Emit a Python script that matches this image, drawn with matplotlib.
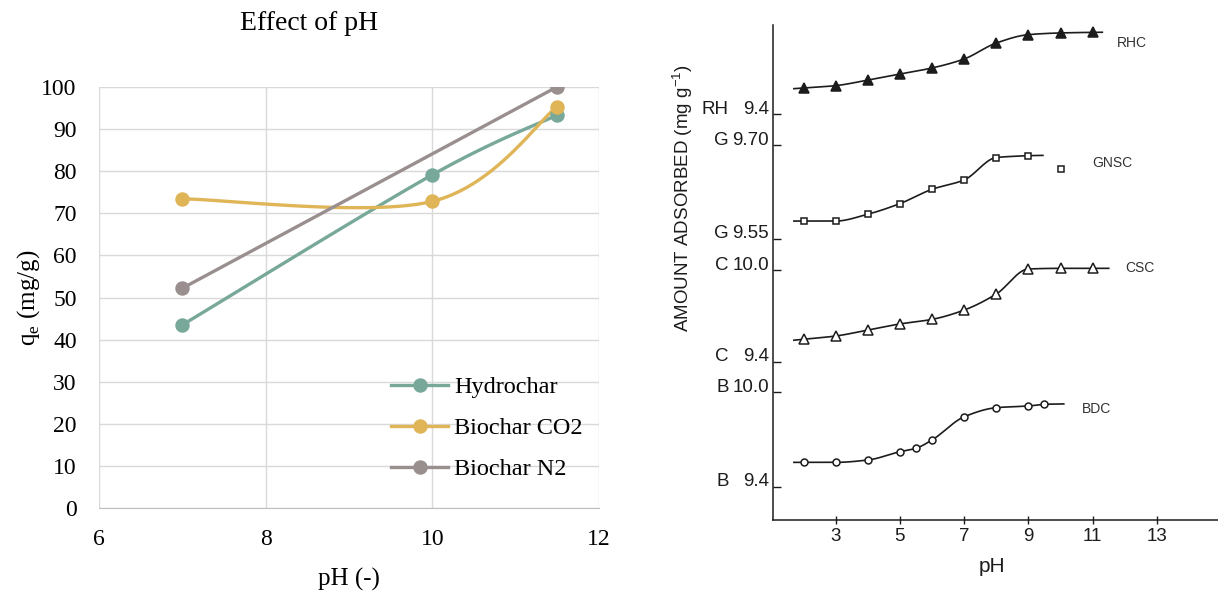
import matplotlib
matplotlib.use("Agg")
import matplotlib.pyplot as plt
from matplotlib.transforms import blended_transform_factory
import numpy as np

# ── left panel: effect of pH on q_e ─────────────────────────────────────────
PH_LEFT = [7, 10, 11.5]
HYDROCHAR = [43.5, 79.1, 93.3]
BIOCHAR_CO2 = [73.4, 72.8, 95.3]
PH_N2 = [7, 11.5]
BIOCHAR_N2 = [52.2, 100.0]
LEFT_NAMES = ["Hydrochar", "Biochar CO2", "Biochar N2"]
LEFT_COLORS = ["#78A89A", "#DFB558", "#9A8F8F"]

# ── right panel: amount adsorbed vs pH (stacked curves, own scales) ────────
PH_RHC = [2, 3, 4, 5, 6, 7, 8, 9, 10, 11]
RHC = [9.568, 9.583, 9.619, 9.658, 9.697, 9.755, 9.858, 9.912, 9.923, 9.927]
PH_GNSC = [2, 3, 4, 5, 6, 7, 8, 9]
GNSC = [9.578, 9.578, 9.589, 9.606, 9.629, 9.644, 9.680, 9.683]
PH_CSC = [2, 3, 4, 5, 6, 7, 8, 9, 10, 11]
CSC = [9.547, 9.568, 9.607, 9.647, 9.677, 9.738, 9.843, 10.007, 10.011, 10.011]
PH_BDC = [2, 3, 4, 5, 5.5, 6, 7, 8, 9, 9.5]
BDC = [9.554, 9.554, 9.569, 9.622, 9.644, 9.697, 9.845, 9.903, 9.914, 9.925]

# y-axis tick values of each stacked scale
RH_TICKS = [9.4]
G_TICKS = [9.55, 9.70]
C_TICKS = [9.4, 10.0]
B_TICKS = [9.4, 10.0]
PH_TICKS_RIGHT = [3, 5, 7, 9, 11, 13]

# where each scale sits on the shared axis: (ref value, ref position, units per 1.0)
STACK = {"RH": (9.4, 406.0, 155.0), "G": (9.55, 281.5, 623.0),
         "C": (9.4, 158.3, 152.8), "B": (9.4, 33.5, 156.7)}

SERIF = "Liberation Serif"
SANS = "Liberation Sans"
INK = "#1c1c1c"


def smooth(x, y, n=40):
    """Excel-like smoothed line (Catmull-Rom as cubic Bezier)."""
    x, y = np.asarray(x, float), np.asarray(y, float)
    px, py = np.r_[x[0], x, x[-1]], np.r_[y[0], y, y[-1]]
    t = np.linspace(0, 1, n)[:, None]
    out = []
    for i in range(1, len(px) - 2):
        p0 = np.array([px[i - 1], py[i - 1]]); p1 = np.array([px[i], py[i]])
        p2 = np.array([px[i + 1], py[i + 1]]); p3 = np.array([px[i + 2], py[i + 2]])
        c1, c2 = p1 + (p2 - p0) / 6, p2 - (p3 - p1) / 6
        seg = ((1 - t) ** 3) * p1 + 3 * ((1 - t) ** 2) * t * c1 + 3 * (1 - t) * t ** 2 * c2 + t ** 3 * p2
        out.append(seg)
    seg = np.vstack(out)
    return seg[:, 0], seg[:, 1]


def pchip(x, y, n=30):
    """Monotone cubic through the points (no overshoot), for the hand-drawn curves."""
    x, y = np.asarray(x, float), np.asarray(y, float)
    h = np.diff(x); d = np.diff(y) / h
    m = np.zeros_like(y)
    m[0], m[-1] = d[0], d[-1]
    for i in range(1, len(x) - 1):
        if d[i - 1] * d[i] > 0:
            w1, w2 = 2 * h[i] + h[i - 1], h[i] + 2 * h[i - 1]
            m[i] = (w1 + w2) / (w1 / d[i - 1] + w2 / d[i])
    xs, ys = [], []
    for i in range(len(x) - 1):
        t = np.linspace(0, 1, n)
        h00 = 2 * t ** 3 - 3 * t ** 2 + 1; h10 = t ** 3 - 2 * t ** 2 + t
        h01 = -2 * t ** 3 + 3 * t ** 2; h11 = t ** 3 - t ** 2
        xs.append(x[i] + t * h[i])
        ys.append(h00 * y[i] + h10 * h[i] * m[i] + h01 * y[i + 1] + h11 * h[i] * m[i + 1])
    return np.concatenate(xs), np.concatenate(ys)


def to_pos(key, vals):
    v0, p0, k = STACK[key]
    return p0 + (np.asarray(vals, float) - v0) * k


fig = plt.figure(figsize=(12.18, 5.93), dpi=100)

# ── left panel ──
ax = fig.add_axes([99 / 1218, 84.7 / 593, 500 / 1218, 421.6 / 593])
series = [(PH_LEFT, HYDROCHAR), (PH_LEFT, BIOCHAR_CO2), (PH_N2, BIOCHAR_N2)]
for (xs, ys), name, col in zip(series, LEFT_NAMES, LEFT_COLORS):
    sx, sy = smooth(xs, ys)
    ax.plot(sx, sy, color=col, lw=2.4, solid_capstyle="round", zorder=3)
    ax.plot(xs, ys, "o", color=col, ms=9.4, zorder=4)
    ax.plot([], [], "-o", color=col, lw=2.4, ms=9.4, label=name)
ax.set_xlim(6, 12); ax.set_ylim(0, 100)
ax.set_xticks([6, 8, 10, 12]); ax.set_yticks(range(0, 101, 10))
ax.grid(True, color="#D9D9D9", lw=1.0, zorder=0)
ax.set_axisbelow(True)
for s in ("left", "right", "top"):
    ax.spines[s].set_visible(False)
ax.spines["bottom"].set_color("#BFBFBF")
ax.tick_params(length=0, labelsize=17, pad=15)
ax.tick_params(axis="y", pad=16)
for lab in ax.get_xticklabels() + ax.get_yticklabels():
    lab.set_fontfamily(SERIF)
ax.legend(loc="center left", bbox_to_anchor=(0.584, 0.19), frameon=False,
          prop={"family": SERIF, "size": 17.5}, handlelength=2.35,
          handletextpad=0.25, labelspacing=0.78, borderpad=0, borderaxespad=0)
fig.text(309 / 1218, 1 - 24 / 593, "Effect of pH", family=SERIF, size=20,
         ha="center", va="center")
fig.text(29 / 1218, 1 - 298 / 593, r"q$_{\mathregular{e}}$ (mg/g)", family=SERIF,
         size=18, rotation=90, ha="center", va="center")
fig.text(349 / 1218, 1 - 579 / 593, "pH (-)", family=SERIF, size=18,
         ha="center", va="center")

# ── right panel ──
bx = fig.add_axes([773 / 1218, 73 / 593, 445 / 1218, 495 / 593])
bx.set_xlim(1.05, 14.9); bx.set_ylim(0, 495)
for s in ("right", "top"):
    bx.spines[s].set_visible(False)
for s in ("left", "bottom"):
    bx.spines[s].set_color(INK); bx.spines[s].set_linewidth(1.1)

curves = [("RH", PH_RHC, RHC, "^", INK, 6.5, 0.3),
          ("G", PH_GNSC, GNSC, "s", "white", 5.0, 0.45),
          ("C", PH_CSC, CSC, "^", "white", 6.5, 0.5),
          ("B", PH_BDC, BDC, "o", "white", 5.0, 0.6)]
for key, xs, vals, mk, fc, ms, ext in curves:
    ys = to_pos(key, vals)
    sx, sy = pchip(xs, ys)
    lx = [xs[0] - 0.3, xs[0]]; ly = [ys[0] - (ys[1] - ys[0]) * 0.3, ys[0]]
    rx = [xs[-1], xs[-1] + ext]; ry = [ys[-1], ys[-1] + (ys[-1] - ys[-2]) * ext * 0.3]
    bx.plot(np.r_[lx, sx, rx], np.r_[ly, sy, ry], color=INK, lw=1.2, zorder=2)
    bx.plot(xs, ys, mk, ms=ms, mfc=fc, mec=INK, mew=1.1, zorder=3)

# curve names (and the lone GNSC key symbol)
bx.plot([10.02], [350.7], "s", ms=4.5, mfc="white", mec=INK, mew=1.1)
for txt, x, y in [("RHC", 11.75, 477), ("GNSC", 10.98, 357),
                  ("CSC", 12.0, 252), ("BDC", 10.67, 111)]:
    bx.text(x, y, txt, family=SANS, size=10, color="#333333",
            ha="left", va="center")

# stacked y scales: ticks point inward, prefix + value drawn left of the axis
tick_info = [("RH", v) for v in RH_TICKS] + [("G", v) for v in G_TICKS] + \
            [("C", v) for v in C_TICKS] + [("B", v) for v in B_TICKS]
positions = [float(to_pos(k, v)) for k, v in tick_info]
bx.set_yticks(positions)
bx.tick_params(axis="y", direction="in", length=6, width=1.0, color=INK, labelleft=False)
trans = blended_transform_factory(bx.transAxes, bx.transData)
for (key, v), p in zip(tick_info, positions):
    num = f"{v:.2f}" if key == "G" else f"{v:.1f}"
    bx.text(-0.009, p + 5, num, transform=trans, family=SANS, size=13.5,
            color=INK, ha="right", va="center")
    bx.text(-0.099, p + 5, key, transform=trans, family=SANS, size=13.5,
            color=INK, ha="right", va="center")

bx.set_xticks(PH_TICKS_RIGHT)
bx.tick_params(axis="x", direction="inout", length=6, width=1.0, color=INK,
               labelsize=13.5, labelcolor=INK, pad=3)
for lab in bx.get_xticklabels():
    lab.set_fontfamily(SANS)
fig.text(992 / 1218, 1 - 567 / 593, "pH", family=SANS, size=15,
         color=INK, ha="center", va="center")
fig.text(683 / 1218, 1 - 198 / 593, r"AMOUNT ADSORBED (mg g$^{\mathregular{-1}}$)",
         family=SANS, size=13.5, color=INK, rotation=90, ha="center", va="center")

fig.savefig("out.png", dpi=100, facecolor="white")
